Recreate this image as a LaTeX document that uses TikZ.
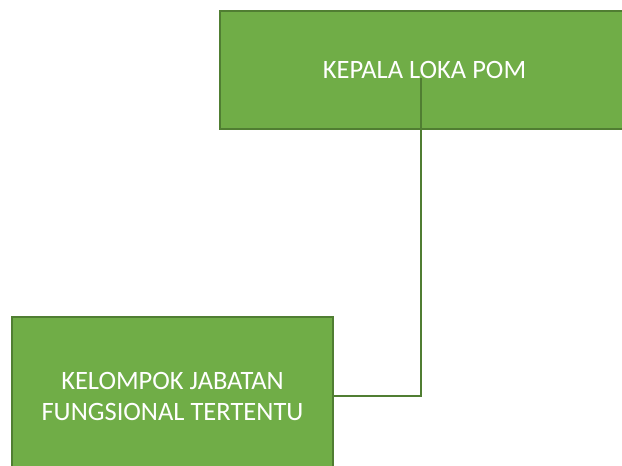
\documentclass[tikz,border=0pt]{standalone}
\usepackage{fontspec}
\setmainfont{Carlito}
\definecolor{boxfill}{HTML}{70AD47}
\definecolor{boxline}{HTML}{507E32}
\begin{document}
\begin{tikzpicture}[x=1pt,y=-1pt,
  orgbox/.style={draw=boxline, line width=1.6pt, fill=boxfill, text=white,
    font=\fontsize{26.5}{31}\selectfont, align=center, inner sep=0pt},
  conn/.style={draw=boxline, line width=1.8pt}]
\clip (0,0) rectangle (622,466);
\node[orgbox, minimum width=409pt, minimum height=118pt] (kepala) at (424.5,70) {KEPALA LOKA POM};
\node[orgbox, minimum width=321pt, minimum height=158pt] (kjft) at (172.5,396) {KELOMPOK JABATAN\\FUNGSIONAL TERTENTU};
\coordinate (start) at (421,78);
\draw[conn] (start) |- (kjft.east);
\end{tikzpicture}
\end{document}
